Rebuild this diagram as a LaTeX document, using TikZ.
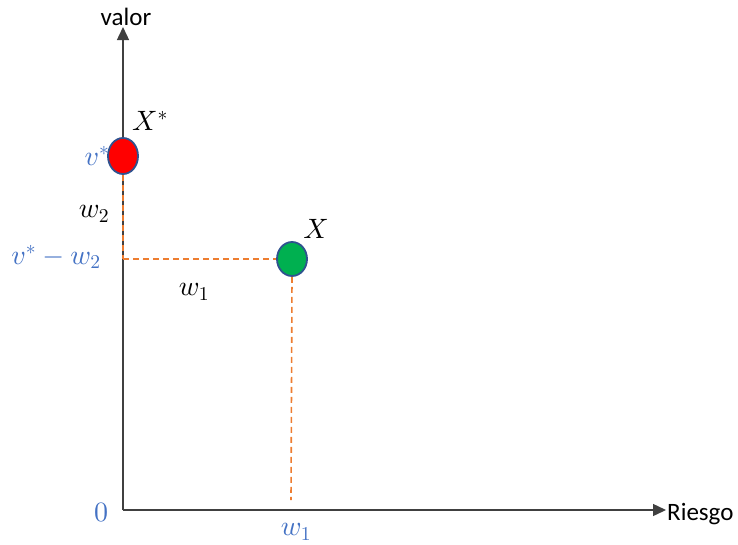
\documentclass[tikz,border=0pt]{standalone}
\usepackage{fontspec}
\setmainfont{Carlito}
\usepackage{xcolor}
\usetikzlibrary{arrows.meta,shapes.geometric}

% scalable math fonts
\DeclareFontShape{OML}{cmm}{m}{it}{<->cmmi10}{}
\DeclareFontShape{OMS}{cmsy}{m}{n}{<->cmsy10}{}
\DeclareFontShape{OT1}{cmr}{m}{n}{<->cmr10}{}

\definecolor{axisgray}{HTML}{404040}
\definecolor{lblblue}{HTML}{4472C4}
\definecolor{guideorange}{HTML}{ED7D31}
\definecolor{rimblue}{HTML}{2F528F}
\definecolor{dotgreen}{HTML}{00B050}

\begin{document}
\begin{tikzpicture}[
			x=1pt, y=-1pt,
			every node/.style={inner sep=0pt},
			axis/.style={-{Triangle[length=13pt,width=12pt]}, line width=1.4pt, draw=axisgray},
			guide/.style={dashed, dash pattern=on 6pt off 4pt, line width=1.6pt, draw=guideorange},
			dot/.style={ellipse, draw=rimblue, line width=1.8pt, minimum width=30pt},
			txt/.style={font=\fontsize{25}{30}\selectfont},
			mlbl/.style={font=\fontsize{28}{33}\selectfont},
			blbl/.style={mlbl, text=lblblue}
			]
			\useasboundingbox (0,0) rectangle (738,544);
			
			% ---- Axes ----
			\coordinate (origin) at (123,510);
			\coordinate (ytip) at (123,27);
			\coordinate (xtip) at (666,510);
			\draw[axis] (origin) -- (ytip);
			\draw[axis] (origin) -- (xtip);
			\node[txt] (valor) at (126,17) {valor};
			\node[txt, anchor=west] (riesgo) at (667,514) {Riesgo};
			
			% ---- Points ----
			\node[dot, fill=red, minimum height=36pt] (xstar) at (123,156) {};
			\node[dot, fill=dotgreen, minimum height=34pt] (xpt) at (292,259) {};
			\node[mlbl] (xstarlbl) at (150,121) {$X^*$};
			\node[mlbl] (xlbl) at (316,229) {$X$};
			
			% ---- Guides ----
			\coordinate (corner) at (123,259);
			\coordinate (wfoot) at (291,500);
			\draw[guide] (xstar.south) -- (corner);
			\draw[guide] (corner) -- (xpt.west);
			\draw[guide] (xpt.south) -- (wfoot);
			
			% ---- Labels ----
			\node[blbl] (vstar) at (97,156) {$v^*$};
			\node[mlbl] (wtwo) at (94,214) {$w_2$};
			\node[blbl] (vdiff) at (56,257) {$v^*-w_2$};
			\node[mlbl] (wone) at (194,292) {$w_1$};
			\node[blbl] (zero) at (101,512) {$0$};
			\node[blbl] (woneaxis) at (296,532) {$w_1$};
			
		\end{tikzpicture}
\end{document}
